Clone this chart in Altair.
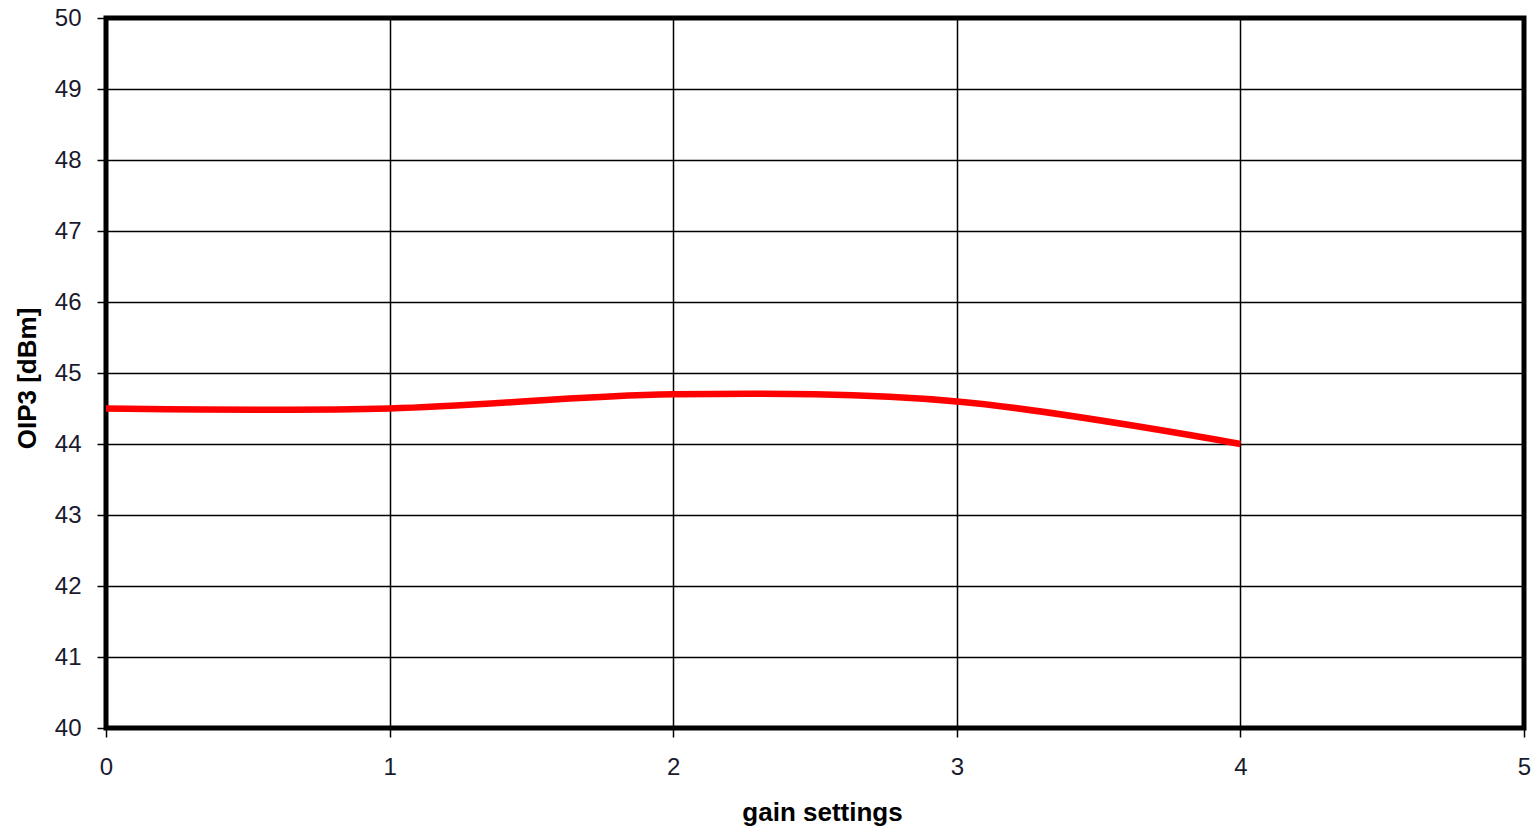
import altair as alt
import pandas as pd

# OIP3 measured at each gain setting
gain_settings = [0, 1, 2, 3, 4]
oip3_dbm = [44.5, 44.5, 44.7, 44.6, 44.0]

df = pd.DataFrame({"gain": gain_settings, "oip3": oip3_dbm})

FONT = "Liberation Sans"

line = alt.Chart(df).mark_line(
    color="#ff0000", strokeWidth=6.5, interpolate="catmull-rom", clip=True
).encode(
    x=alt.X(
        "gain:Q",
        scale=alt.Scale(domain=[0, 5], nice=False, zero=False),
        axis=alt.Axis(
            title="gain settings",
            values=[0, 1, 2, 3, 4, 5],
            format="d",
            grid=True,
            gridColor="#000000",
            gridWidth=1.5,
            gridOpacity=1,
            domain=False,
            tickColor="#000000",
            tickSize=9,
            tickWidth=1.5,
            labelFont=FONT,
            labelFontSize=24,
            labelColor="#1a1a2e",
            labelPadding=18,
            labelFlush=False,
            titleFont=FONT,
            titleFontSize=26,
            titleFontWeight="bold",
            titleColor="#000000",
            titlePadding=20,
            titleX=716,
        ),
    ),
    y=alt.Y(
        "oip3:Q",
        scale=alt.Scale(domain=[40, 50], nice=False, zero=False),
        axis=alt.Axis(
            title="OIP3 [dBm]",
            values=list(range(40, 51)),
            grid=True,
            gridColor="#000000",
            gridWidth=1.5,
            gridOpacity=1,
            domain=False,
            tickColor="#000000",
            tickSize=9,
            tickWidth=1.5,
            labelFont=FONT,
            labelFontSize=24,
            labelColor="#1a1a2e",
            labelPadding=16,
            labelFlush=False,
            titleFont=FONT,
            titleFontSize=26,
            titleFontWeight="bold",
            titleColor="#000000",
            titlePadding=14,
            titleY=360,
        ),
    ),
)

chart = line.properties(
    width=1418,
    height=710,
    padding={"left": 106, "top": 18, "right": 15, "bottom": 102},
    autosize=alt.AutoSizeParams(type="none"),
    background="#ffffff",
).configure_view(
    stroke="#000000", strokeWidth=5
)

chart.save("out.html", embed_options={"renderer": "svg", "actions": False})
